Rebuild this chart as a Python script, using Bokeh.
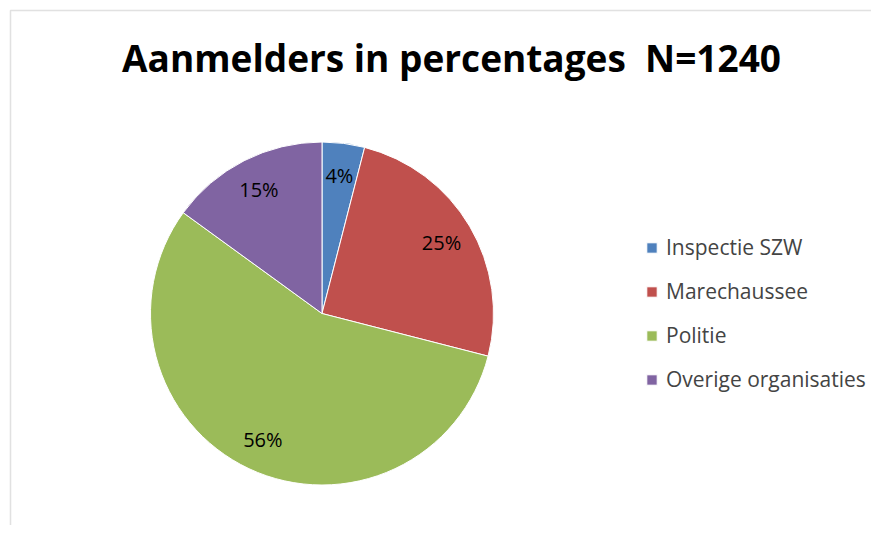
import numpy as np
from bokeh.plotting import figure
from bokeh.models import Range1d, Label, Legend, LegendItem, BoxAnnotation, ColumnDataSource
from bokeh.core.properties import value
from bokeh.embed import file_html
from bokeh.resources import INLINE

categories = ["Inspectie SZW", "Marechaussee", "Politie", "Overige organisaties"]
percentages = [4, 25, 56, 15]
labels = ["4%", "25%", "56%", "15%"]
colors = ["#4F81BD", "#C0504D", "#9BBB59", "#8064A2"]
title_text = "Aanmelders in percentages \u00a0N=1240"

FONT = "Open Sans"
W, H = 871, 525
p = figure(width=W, height=H, output_backend="svg", toolbar_location=None,
           x_range=Range1d(0, 871), y_range=Range1d(8, 533),
           min_border=0, outline_line_color=None)
p.axis.visible = False
p.grid.visible = False

# frame
p.add_layout(BoxAnnotation(left=10, top=523, right=1000, bottom=-100,
                           fill_alpha=0, line_color="#9a9a9a", line_width=1.5))

cx, cy, r = 321.5, 533 - 313, 171.5
vals = np.array(percentages, dtype=float)
frac = vals / vals.sum()
cum_end = np.cumsum(frac)
cum_start = cum_end - frac
start = np.pi / 2 - cum_end * 2 * np.pi
end = np.pi / 2 - cum_start * 2 * np.pi
mid = (start + end) / 2
lr = r * 0.81
src = ColumnDataSource(dict(cat=categories, start=start, end=end, color=colors,
                            lx=cx + lr * np.cos(mid), ly=cy + lr * np.sin(mid), lab=labels))

renderers = []
for i in range(len(categories)):
    rr = p.wedge(x=cx, y=cy, radius=r, start_angle=start[i], end_angle=end[i],
                 fill_color=colors[i], line_color="white", line_width=1)
    renderers.append(rr)

p.text(x="lx", y="ly", text="lab", source=src, text_align="center", text_baseline="middle",
       text_font=value(FONT), text_font_size="20px", text_color="black")

p.add_layout(Label(x=451, y=533 - 57, text=title_text, text_align="center", text_baseline="middle",
                   text_font=FONT, text_font_size="37px", text_font_style="bold", text_color="black"))

legend = Legend(items=[LegendItem(label=categories[i], renderers=[renderers[i]]) for i in range(4)],
                location=(645, 124), padding=0, margin=0, spacing=0,
                glyph_width=13, glyph_height=13, label_height=44, label_standoff=8,
                label_text_font=FONT, label_text_font_size="21px",
                border_line_color=None, background_fill_alpha=0)
p.add_layout(legend, "center")

open("out.html", "w").write(file_html(p, INLINE))
